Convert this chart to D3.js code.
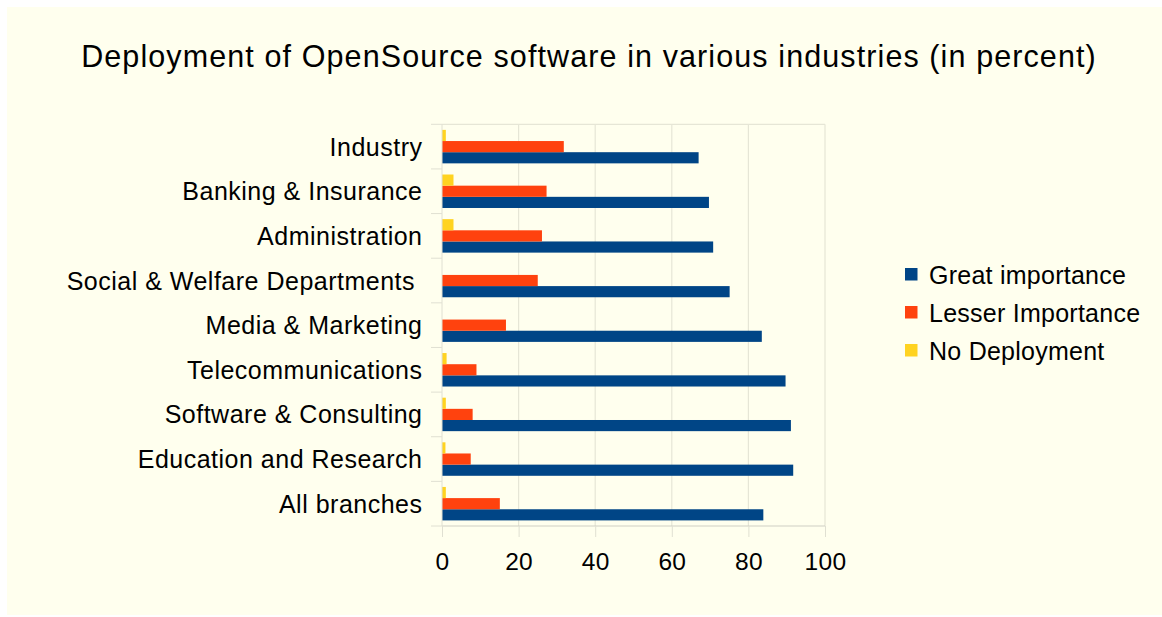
<!DOCTYPE html>
<html lang="en">
<head>
  <meta charset="UTF-8">
  <title>Deployment of OpenSource software in various industries</title>
  <script src="https://d3js.org/d3.v7.min.js"></script>
  <style>
    body { margin: 0; background: #fff; }
    svg { display: block; font-family: "Liberation Sans", Arial, sans-serif; }
    text { white-space: pre; }
  </style>
</head>
<body>
  <svg width="1162" height="617"></svg>

  <script>
    // data
    const categories = ["Industry", "Banking & Insurance", "Administration", "Social & Welfare Departments ",
      "Media & Marketing", "Telecommunications", "Software & Consulting", "Education and Research", "All branches"];
    const seriesNames = ["Great importance", "Lesser Importance", "No Deployment"];
    const seriesColors = ["#004586", "#ff420e", "#ffd320"];
    const greatImportance = [67.0, 69.7, 70.8, 75.1, 83.5, 89.7, 91.1, 91.7, 83.9];
    const lesserImportance = [31.8, 27.3, 26.1, 25.0, 16.7, 9.0, 8.0, 7.5, 15.1];
    const noDeployment = [1.0, 3.0, 3.0, 0, 0, 1.2, 1.0, 0.9, 1.0];
    const xTicks = [0, 20, 40, 60, 80, 100];

    const values = [greatImportance, lesserImportance, noDeployment];

    const svg = d3.select('svg');
    const plot = { left: 442, right: 825, top: 124.3, bottom: 526 };

    // background
    svg.append('rect').attr('x', 7).attr('y', 7).attr('width', 1155).attr('height', 608)
      .attr('fill', '#ffffee');

    svg.append('text')
      .attr('x', 589).attr('y', 67)
      .attr('text-anchor', 'middle')
      .attr('font-size', 30.5)
      .attr('letter-spacing', 1.1)
      .text('Deployment of OpenSource software in various industries (in percent)');

    const x = d3.scaleLinear().domain([0, 100]).range([plot.left, plot.right]);
    const y = d3.scaleBand().domain(categories).range([plot.top, plot.bottom]);
    // bars inside a band, top to bottom: No Deployment, Lesser, Great
    const inner = d3.scaleBand().domain([2, 1, 0])
      .range([y.bandwidth() * 0.125, y.bandwidth() * 0.875]);

    // grid
    svg.append('g').selectAll('line').data(xTicks.slice(1)).join('line')
      .attr('x1', d => x(d)).attr('x2', d => x(d))
      .attr('y1', plot.top).attr('y2', plot.bottom)
      .attr('stroke', '#e6e6d6').attr('stroke-width', 1.2);
    svg.append('line')
      .attr('x1', plot.left).attr('x2', plot.right)
      .attr('y1', plot.top).attr('y2', plot.top)
      .attr('stroke', '#e6e6d6').attr('stroke-width', 1.2);

    // bars
    const rows = [];
    categories.forEach((c, i) => values.forEach((s, k) => rows.push({ cat: c, k: k, v: s[i] })));
    svg.append('g').selectAll('rect').data(rows.filter(d => d.v > 0)).join('rect')
      .attr('x', x(0))
      .attr('y', d => y(d.cat) + inner(d.k))
      .attr('width', d => x(d.v) - x(0))
      .attr('height', inner.bandwidth())
      .attr('fill', d => seriesColors[d.k]);

    // axes
    const xAxis = svg.append('g').attr('transform', `translate(0,${plot.bottom})`)
      .call(d3.axisBottom(x).tickValues(xTicks).tickSize(11).tickPadding(16).tickFormat(d3.format('d')));
    xAxis.select('.domain').attr('stroke', '#cfcfc4').attr('d', `M${plot.left},0H${plot.right}`);
    xAxis.selectAll('.tick line').attr('stroke', '#e0e0d2');
    xAxis.selectAll('.tick text').attr('font-size', 24.5).attr('fill', '#000')
      .attr('font-family', '"Liberation Sans", Arial, sans-serif').attr('letter-spacing', 0.3);

    const yAxis = svg.append('g').attr('transform', `translate(${plot.left},0)`)
      .call(d3.axisLeft(y).tickSize(0).tickPadding(19.5));
    yAxis.select('.domain').attr('stroke', '#e0e0d2').attr('d', `M0,${plot.top}V${plot.bottom}`);
    yAxis.selectAll('.tick text').attr('font-size', 25).attr('fill', '#000')
      .attr('font-family', '"Liberation Sans", Arial, sans-serif').attr('dy', '0.36em')
      .attr('letter-spacing', 0.5);
    // band separator ticks
    const seps = d3.range(categories.length + 1).map(i => plot.top + i * y.step());
    yAxis.append('g').selectAll('line').data(seps).join('line')
      .attr('x1', -11).attr('x2', 0).attr('y1', d => d).attr('y2', d => d)
      .attr('stroke', '#e0e0d2');

    // legend
    const legend = svg.append('g').attr('transform', 'translate(905,268)');
    const item = legend.selectAll('g').data(seriesNames).join('g')
      .attr('transform', (d, i) => `translate(0,${i * 38})`);
    item.append('rect').attr('width', 12.5).attr('height', 12.5)
      .attr('fill', (d, i) => seriesColors[i]);
    item.append('text').attr('x', 24).attr('y', 15.5)
      .attr('font-size', 25).attr('letter-spacing', 0.25).text(d => d);
  </script>
</body>
</html>
